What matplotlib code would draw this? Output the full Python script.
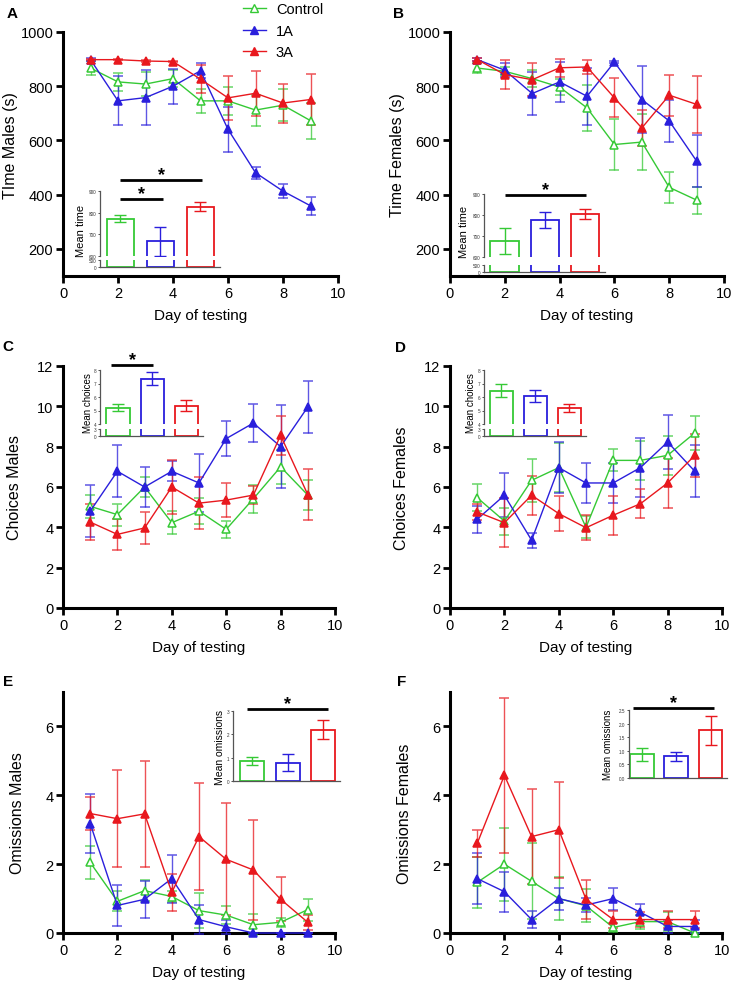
import matplotlib
matplotlib.use("Agg")
import matplotlib.pyplot as plt
from matplotlib.lines import Line2D

plt.rcParams['font.family'] = ['Liberation Sans', 'DejaVu Sans']

W, H = 734, 987

GREEN = '#35C935'
BLUE = '#2A1FDC'
RED = '#E8181E'

days = [1, 2, 3, 4, 5, 6, 7, 8, 9]
groups = ['Control', '1A', '3A']

# Panel A: Time Males
A_ctrl = [867, 816, 808, 828, 746, 746, 712, 730, 673]
A_ctrl_err = [25, 34, 45, 32, 43, 52, 57, 60, 66]
A_1a = [898, 746, 758, 800, 857, 641, 481, 413, 359]
A_1a_err = [5, 90, 100, 65, 28, 83, 22, 27, 33]
A_3a = [898, 898, 893, 891, 826, 757, 774, 738, 751]
A_3a_err = [3, 3, 3, 3, 52, 82, 82, 72, 93]
A_mean = [772, 667, 828]
A_mean_err = [17, 65, 20]

# Panel B: Time Females
B_ctrl = [867, 855, 828, 797, 720, 585, 594, 427, 380]
B_ctrl_err = [20, 15, 30, 30, 85, 93, 103, 57, 50]
B_1a = [898, 859, 773, 816, 763, 889, 751, 672, 524]
B_1a_err = [5, 25, 80, 75, 105, 5, 125, 78, 97]
B_3a = [898, 843, 824, 868, 871, 757, 646, 767, 733]
B_3a_err = [5, 52, 60, 33, 27, 72, 66, 75, 105]
B_mean = [675, 776, 805]
B_mean_err = [62, 40, 25]

# Panel C: Choices Males
C_ctrl = [5.04, 4.63, 6.0, 4.23, 4.8, 3.9, 5.42, 7.0, 5.6]
C_ctrl_err = [0.56, 0.55, 0.5, 0.58, 0.65, 0.43, 0.7, 0.85, 0.73]
C_1a = [4.8, 6.78, 6.0, 6.78, 6.2, 8.4, 9.17, 8.0, 9.97]
C_1a_err = [1.3, 1.3, 1.0, 0.5, 1.45, 0.85, 0.95, 2.05, 1.3]
C_3a = [4.26, 3.65, 3.97, 6.0, 5.2, 5.35, 5.6, 8.56, 5.62]
C_3a_err = [0.9, 0.75, 0.8, 1.35, 1.3, 0.85, 0.45, 0.95, 1.25]
C_mean = [5.2, 7.37, 5.37]
C_mean_err = [0.27, 0.5, 0.43]

# Panel D: Choices Females
D_ctrl = [5.47, 4.31, 6.33, 6.96, 4.0, 7.32, 7.32, 7.57, 8.68]
D_ctrl_err = [0.68, 0.67, 1.05, 1.22, 0.55, 0.55, 0.97, 0.97, 0.85]
D_1a = [4.4, 5.59, 3.36, 6.96, 6.2, 6.2, 6.96, 8.23, 6.78]
D_1a_err = [0.67, 1.1, 0.38, 1.25, 0.97, 1.0, 1.47, 1.33, 1.3]
D_3a = [4.76, 4.23, 5.59, 4.68, 3.98, 4.6, 5.17, 6.2, 7.57]
D_3a_err = [0.38, 1.22, 0.97, 0.85, 0.62, 0.97, 0.72, 1.22, 1.05]
D_mean = [6.45, 6.07, 5.2]
D_mean_err = [0.48, 0.43, 0.3]

# Panel E: Omissions Males
E_ctrl = [2.05, 0.92, 1.23, 1.06, 0.65, 0.52, 0.24, 0.31, 0.68]
E_ctrl_err = [0.47, 0.29, 0.3, 0.17, 0.5, 0.27, 0.3, 0.13, 0.32]
E_1a = [3.18, 0.8, 0.98, 1.58, 0.39, 0.18, 0.0, 0.0, 0.0]
E_1a_err = [0.85, 0.59, 0.53, 0.7, 0.41, 0.21, 0.0, 0.0, 0.0]
E_3a = [3.47, 3.32, 3.46, 1.18, 2.8, 2.14, 1.83, 0.98, 0.31]
E_3a_err = [0.48, 1.41, 1.54, 0.53, 1.56, 1.63, 1.44, 0.64, 0.22]
E_mean = [0.86, 0.79, 2.19]
E_mean_err = [0.19, 0.35, 0.41]

# Panel F: Omissions Females
F_ctrl = [1.47, 2.0, 1.5, 1.0, 0.79, 0.16, 0.33, 0.33, 0.0]
F_ctrl_err = [0.75, 1.06, 1.1, 0.62, 0.48, 0.14, 0.2, 0.27, 0.0]
F_1a = [1.58, 1.2, 0.39, 1.0, 0.81, 1.0, 0.6, 0.19, 0.19]
F_1a_err = [0.75, 0.58, 0.24, 0.32, 0.2, 0.32, 0.23, 0.19, 0.19]
F_3a = [2.6, 4.58, 2.8, 3.0, 0.98, 0.39, 0.39, 0.39, 0.39]
F_3a_err = [0.4, 2.25, 1.38, 1.4, 0.56, 0.24, 0.22, 0.24, 0.24]
F_mean = [0.87, 0.8, 1.75]
F_mean_err = [0.24, 0.16, 0.52]

fig = plt.figure(figsize=(W / 100, H / 100), dpi=100)

MS = 5.8


def rect(l, t, r, b):
    return [l / W, 1 - b / H, (r - l) / W, (b - t) / H]


def main_axes(px, ylim, yticks, ylabel, lab_x, lab_y, series):
    ax = fig.add_axes(rect(*px))
    colors = [GREEN, BLUE, RED]
    for (vals, errs), c, g in zip(series, colors, groups):
        mfc = 'white' if g == 'Control' else c
        ln, caps, bars = ax.errorbar(days, vals, yerr=errs, color=c, marker='^', ms=MS,
                                     mfc=mfc, mec=c, mew=1.1, lw=1.0, capsize=3.5,
                                     elinewidth=1.0, capthick=1.0, clip_on=False, zorder=3)
        for cp in caps:
            cp.set_alpha(0.75)
            cp.set_clip_on(False)
        for b in bars:
            b.set_alpha(0.75)
            b.set_clip_on(False)
    ax.set_xlim(0, 10)
    ax.set_ylim(*ylim)
    ax.set_xticks([0, 2, 4, 6, 8, 10])
    ax.set_yticks(yticks)
    for s in ['top', 'right']:
        ax.spines[s].set_visible(False)
    for s in ['left', 'bottom']:
        ax.spines[s].set_linewidth(2.2)
    ax.tick_params(width=2, length=5, labelsize=10.5, pad=2)
    ax.set_xlabel('Day of testing', fontsize=11, labelpad=6)
    ax.set_ylabel(ylabel, fontsize=11.5)
    ax.yaxis.set_label_coords(lab_x, lab_y)
    return ax


def style_inset(ax, left=True, bottom=True):
    for s in ['top', 'right']:
        ax.spines[s].set_visible(False)
    ax.spines['left'].set_visible(left)
    ax.spines['bottom'].set_visible(bottom)
    for s in ['left', 'bottom']:
        ax.spines[s].set_linewidth(0.9)
        ax.spines[s].set_color('#555555')
    ax.set_xticks([])
    ax.tick_params(axis='y', length=1.8, width=0.6, labelsize=3.3, pad=0.8,
                   colors='#333333')
    ax.patch.set_alpha(0)


def draw_bars(ax, vals, errs, width, with_err=True):
    x = [0, 1, 2]
    ax.bar(x, vals, width=width, color='white',
           edgecolor=[GREEN, BLUE, RED], linewidth=1.3, zorder=2)
    if with_err:
        for xi, v, e, c in zip(x, vals, errs, [GREEN, BLUE, RED]):
            ax.errorbar([xi], [v], yerr=[e], fmt='none', ecolor=c, capsize=4.5,
                        elinewidth=1.0, capthick=1.0, zorder=3)


def sig(ax, x0, x1, y, star_dy=4.0):
    ax.plot([x0, x1], [y, y], color='black', lw=2.0, clip_on=False, solid_capstyle='butt')
    ax.annotate('*', xy=((x0 + x1) / 2, y), xytext=(0, star_dy), textcoords='offset points',
                ha='center', va='center', fontsize=13, fontweight='bold',
                annotation_clip=False)


def broken_inset(px_up, px_low, xlim, up_lim, up_ticks, low_lim, low_ticks, vals, errs, width):
    up = fig.add_axes(rect(*px_up))
    low = fig.add_axes(rect(*px_low))
    draw_bars(up, vals, errs, width)
    draw_bars(low, vals, errs, width, with_err=False)
    for a in (up, low):
        a.set_xlim(*xlim)
    up.set_ylim(*up_lim)
    up.set_yticks(up_ticks)
    low.set_ylim(*low_lim)
    low.set_yticks(low_ticks)
    style_inset(up, bottom=False)
    style_inset(low)
    return up, low


# ---------------- Panel A ----------------
axA = main_axes((63, 33, 338, 277), (100, 1000), [200, 400, 600, 800, 1000],
                'TIme Males (s)', -0.165, 0.54,
                [(A_ctrl, A_ctrl_err), (A_1a, A_1a_err), (A_3a, A_3a_err)])
upA, lowA = broken_inset((100, 192, 220, 257), (100, 261, 220, 268), (-0.51, 2.49),
                         (600, 900), [600, 700, 800, 900], (0, 500), [0, 500],
                         A_mean, A_mean_err, 0.675)
sig(upA, -0.01, 2.04, 950)
sig(upA, -0.01, 1.06, 861)
fig.text(81 / W, 1 - 231 / H, 'Mean time', rotation=90, ha='center', va='center', fontsize=8)

# ---------------- Panel B ----------------
axB = main_axes((450, 33, 724, 277), (100, 1000), [200, 400, 600, 800, 1000],
                'Time Females (s)', -0.165, 0.5,
                [(B_ctrl, B_ctrl_err), (B_1a, B_1a_err), (B_3a, B_3a_err)])
upB, lowB = broken_inset((484, 195, 605, 258), (484, 266, 605, 273), (-0.51, 2.49),
                         (600, 900), [600, 700, 800, 900], (0, 500), [0, 500],
                         B_mean, B_mean_err, 0.7)
sig(upB, 0.0, 2.02, 895)
fig.text(464 / W, 1 - 232 / H, 'Mean time', rotation=90, ha='center', va='center', fontsize=8)

# ---------------- Panel C ----------------
axC = main_axes((63, 367, 335, 609), (0, 12), [0, 2, 4, 6, 8, 10, 12],
                'Choices Males', -0.15, 0.5,
                [(C_ctrl, C_ctrl_err), (C_1a, C_1a_err), (C_3a, C_3a_err)])
upC, lowC = broken_inset((100, 371, 203, 425), (100, 430, 203, 437), (-0.53, 2.49),
                         (4, 8), [4, 5, 6, 7, 8], (0, 3), [0, 3],
                         C_mean, C_mean_err, 0.68)
sig(upC, -0.2, 1.03, 8.38)
fig.text(88 / W, 1 - 403 / H, 'Mean choices', rotation=90, ha='center', va='center', fontsize=7)

# ---------------- Panel D ----------------
axD = main_axes((450, 367, 722, 609), (0, 12), [0, 2, 4, 6, 8, 10, 12],
                'Choices Females', -0.15, 0.5,
                [(D_ctrl, D_ctrl_err), (D_1a, D_1a_err), (D_3a, D_3a_err)])
upD, lowD = broken_inset((484, 371, 586, 425), (484, 430, 586, 437), (-0.51, 2.5),
                         (4, 8), [4, 5, 6, 7, 8], (0, 3), [0, 3],
                         D_mean, D_mean_err, 0.68)
fig.text(471 / W, 1 - 403 / H, 'Mean choices', rotation=90, ha='center', va='center', fontsize=7)

# ---------------- Panel E ----------------
axE = main_axes((63, 693, 335, 934), (0, 7), [0, 2, 4, 6],
                'Omissions Males', -0.14, 0.5,
                [(E_ctrl, E_ctrl_err), (E_1a, E_1a_err), (E_3a, E_3a_err)])
inE = fig.add_axes(rect(233, 712, 340, 782))
draw_bars(inE, E_mean, E_mean_err, 0.68)
inE.set_xlim(-0.54, 2.48)
inE.set_ylim(0, 3)
inE.set_yticks([0, 1, 2, 3])
style_inset(inE)
sig(inE, -0.14, 2.14, 3.08)
fig.text(220 / W, 1 - 747 / H, 'Mean omissions', rotation=90, ha='center', va='center', fontsize=7.5)

# ---------------- Panel F ----------------
axF = main_axes((450, 693, 722, 934), (0, 7), [0, 2, 4, 6],
                'Omissions Females', -0.14, 0.5,
                [(F_ctrl, F_ctrl_err), (F_1a, F_1a_err), (F_3a, F_3a_err)])
inF = fig.add_axes(rect(629, 711, 727, 779))
draw_bars(inF, F_mean, F_mean_err, 0.69)
inF.set_xlim(-0.38, 2.48)
inF.set_ylim(0, 2.5)
inF.set_yticks([0, 0.5, 1.0, 1.5, 2.0, 2.5])
inF.set_yticklabels(['0.0', '0.5', '1.0', '1.5', '2.0', '2.5'])
style_inset(inF)
sig(inF, -0.26, 2.1, 2.57)
fig.text(608 / W, 1 - 745 / H, 'Mean omissions', rotation=90, ha='center', va='center', fontsize=7)

# ---------------- Panel letters ----------------
for letter, (x, y) in zip('ABCDEF', [(12, 14), (399, 14), (8, 347), (400, 348), (8, 682), (402, 682)]):
    fig.text(x / W, 1 - y / H, letter, fontsize=11, fontweight='bold', ha='center', va='center')

# ---------------- Legend ----------------
handles = [
    Line2D([], [], color=GREEN, marker='^', ms=MS, mfc='white', mec=GREEN, lw=1.0),
    Line2D([], [], color=BLUE, marker='^', ms=MS, mfc=BLUE, mec=BLUE, lw=1.0),
    Line2D([], [], color=RED, marker='^', ms=MS, mfc=RED, mec=RED, lw=1.0),
]
fig.legend(handles, groups, loc='upper left', bbox_to_anchor=(243 / W, 1 - 3.5 / H),
           frameon=False, fontsize=10.5, handlelength=1.55, handletextpad=0.7,
           labelspacing=0.5, borderpad=0.0, borderaxespad=0.0, numpoints=1)

fig.savefig('out.png', dpi=100)
